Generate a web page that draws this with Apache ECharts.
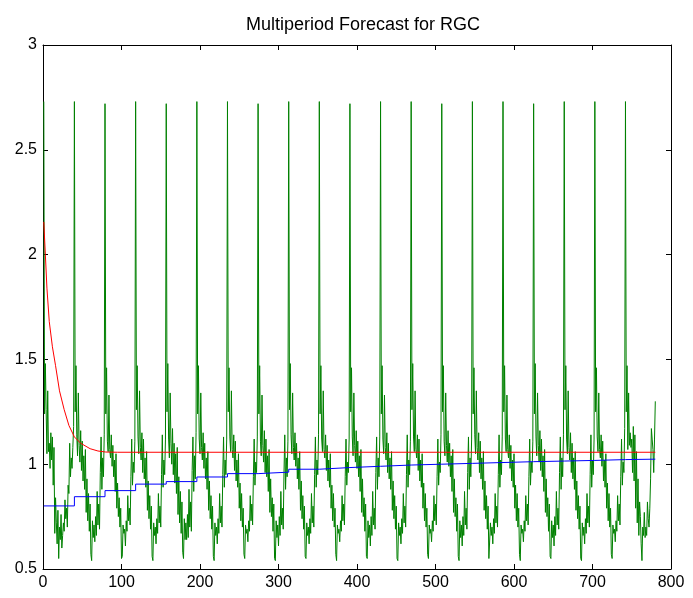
<!DOCTYPE html>
<html>
<head>
<meta charset="utf-8">
<script src="https://cdn.jsdelivr.net/npm/echarts@6/dist/echarts.min.js"></script>
<style>
html,body{margin:0;padding:0;background:#fff;}
#chart{width:693px;height:598px;}
</style>
</head>
<body>
<div id="chart"></div>
<script>
// ---- data ----
var titleText = 'Multiperiod Forecast for RGC';
var xTicks = [0, 100, 200, 300, 400, 500, 600, 700, 800];
var yTicks = [0.5, 1, 1.5, 2, 2.5, 3];
var cycleLength = 39; // points per cycle in the green series

// green series: one row per 39-point cycle (x = 1..780)
var greenCycles = [
 [2.73,1.24,1.48,1.26,1.05,1.35,1.06,1.10,0.98,1.15,1.02,1.13,0.90,1.08,0.67,0.84,0.72,0.62,0.78,0.55,0.70,0.64,0.76,0.60,0.66,0.72,0.68,0.83,0.74,0.79,0.70,0.90,0.86,1.10,0.94,1.03,0.98,1.08,1.18],
 [2.73,1.25,1.47,1.14,1.04,1.34,1.09,1.01,1.16,0.97,1.11,0.92,1.04,0.88,1.07,0.77,0.93,0.73,0.86,0.68,0.81,0.57,0.54,0.73,0.65,0.71,0.63,0.75,0.66,0.87,0.71,0.81,0.69,0.96,1.13,0.88,1.03,0.94,1.14],
 [2.72,1.24,1.46,1.11,1.06,1.33,1.07,1.03,1.14,0.99,1.09,0.94,1.02,0.87,1.05,0.79,0.91,0.75,0.84,0.70,0.79,0.55,0.56,0.71,0.67,0.69,0.61,0.73,0.68,0.85,0.73,0.79,0.71,0.94,1.12,0.90,1.01,0.96,1.11],
 [2.73,1.26,1.47,1.13,1.05,1.35,1.08,1.02,1.15,0.96,1.12,0.93,1.03,0.89,1.06,0.78,0.92,0.74,0.85,0.69,0.80,0.56,0.54,0.72,0.66,0.70,0.62,0.74,0.67,0.86,0.72,0.80,0.70,0.95,1.14,0.89,1.02,0.95,1.12],
 [2.72,1.25,1.48,1.12,1.03,1.34,1.10,1.00,1.17,0.95,1.10,0.91,1.05,0.86,1.08,0.76,0.94,0.72,0.87,0.67,0.82,0.58,0.55,0.74,0.64,0.72,0.64,0.76,0.65,0.88,0.70,0.82,0.68,0.97,1.13,0.87,1.04,0.93,1.15],
 [2.73,1.24,1.47,1.12,1.05,1.34,1.08,1.02,1.15,0.98,1.10,0.93,1.03,0.88,1.06,0.78,0.92,0.74,0.85,0.69,0.80,0.56,0.54,0.72,0.66,0.70,0.62,0.74,0.67,0.86,0.72,0.80,0.70,0.95,1.13,0.89,1.02,0.95,1.12],
 [2.73,1.25,1.46,1.13,1.06,1.35,1.07,1.03,1.14,0.97,1.11,0.92,1.02,0.89,1.05,0.79,0.91,0.73,0.86,0.70,0.79,0.57,0.55,0.71,0.67,0.69,0.63,0.73,0.68,0.85,0.73,0.81,0.71,0.94,1.12,0.90,1.01,0.96,1.13],
 [2.72,1.24,1.47,1.11,1.04,1.33,1.09,1.01,1.16,0.96,1.12,0.94,1.04,0.87,1.07,0.77,0.93,0.75,0.84,0.68,0.81,0.55,0.54,0.73,0.65,0.71,0.61,0.75,0.66,0.87,0.71,0.79,0.69,0.96,1.14,0.88,1.03,0.94,1.11],
 [2.73,1.26,1.48,1.14,1.05,1.34,1.08,1.02,1.15,0.99,1.10,0.93,1.03,0.88,1.06,0.78,0.92,0.74,0.85,0.69,0.80,0.56,0.55,0.72,0.66,0.70,0.62,0.74,0.67,0.86,0.72,0.80,0.70,0.95,1.13,0.89,1.02,0.95,1.14],
 [2.73,1.24,1.47,1.12,1.06,1.35,1.07,1.03,1.14,0.97,1.09,0.92,1.02,0.89,1.05,0.79,0.90,0.73,0.86,0.70,0.79,0.57,0.54,0.71,0.67,0.69,0.63,0.73,0.68,0.85,0.73,0.81,0.71,0.94,1.12,0.90,1.01,0.96,1.12],
 [2.72,1.25,1.46,1.13,1.04,1.34,1.09,1.01,1.16,0.98,1.11,0.94,1.04,0.87,1.07,0.77,0.93,0.75,0.84,0.68,0.81,0.56,0.55,0.73,0.65,0.71,0.61,0.75,0.66,0.87,0.71,0.79,0.69,0.96,1.13,0.88,1.03,0.94,1.13],
 [2.73,1.24,1.47,1.12,1.05,1.33,1.08,1.02,1.15,0.96,1.10,0.93,1.03,0.88,1.06,0.78,0.92,0.74,0.85,0.69,0.80,0.55,0.54,0.72,0.66,0.70,0.62,0.74,0.67,0.86,0.72,0.80,0.70,0.95,1.14,0.89,1.02,0.95,1.11],
 [2.73,1.26,1.48,1.13,1.06,1.35,1.07,1.03,1.14,0.97,1.12,0.92,1.02,0.89,1.05,0.79,0.91,0.73,0.86,0.70,0.79,0.57,0.55,0.71,0.67,0.69,0.63,0.73,0.68,0.85,0.73,0.81,0.71,0.94,1.12,0.90,1.01,0.96,1.14],
 [2.72,1.25,1.47,1.11,1.04,1.34,1.09,1.01,1.16,0.99,1.10,0.94,1.04,0.87,1.07,0.77,0.93,0.75,0.84,0.68,0.81,0.56,0.54,0.73,0.65,0.71,0.61,0.75,0.66,0.87,0.71,0.79,0.69,0.96,1.13,0.88,1.03,0.94,1.12],
 [2.73,1.24,1.46,1.14,1.05,1.35,1.08,1.02,1.15,0.96,1.11,0.93,1.03,0.88,1.06,0.78,0.92,0.74,0.85,0.69,0.80,0.55,0.55,0.72,0.66,0.70,0.62,0.74,0.67,0.86,0.72,0.80,0.70,0.95,1.14,0.89,1.02,0.95,1.13],
 [2.73,1.25,1.47,1.12,1.06,1.33,1.07,1.03,1.14,0.98,1.09,0.92,1.02,0.89,1.05,0.79,0.90,0.73,0.86,0.70,0.79,0.57,0.54,0.71,0.67,0.69,0.63,0.73,0.68,0.85,0.73,0.81,0.71,0.94,1.12,0.90,1.01,0.96,1.11],
 [2.72,1.24,1.48,1.13,1.04,1.34,1.09,1.01,1.16,0.97,1.12,0.94,1.04,0.87,1.07,0.77,0.93,0.75,0.84,0.68,0.81,0.56,0.55,0.73,0.65,0.71,0.61,0.75,0.66,0.87,0.71,0.79,0.69,0.96,1.13,0.88,1.03,0.94,1.14],
 [2.73,1.26,1.47,1.12,1.05,1.35,1.08,1.02,1.15,0.96,1.10,0.93,1.03,0.88,1.06,0.78,0.92,0.74,0.85,0.69,0.80,0.55,0.54,0.72,0.66,0.70,0.62,0.74,0.67,0.86,0.72,0.80,0.70,0.95,1.14,0.89,1.02,0.95,1.12],
 [2.73,1.25,1.46,1.13,1.06,1.34,1.07,1.03,1.14,0.99,1.11,0.92,1.02,0.89,1.05,0.79,0.91,0.73,0.86,0.70,0.79,0.57,0.55,0.71,0.67,0.69,0.63,0.73,0.68,0.85,0.73,0.81,0.71,0.94,1.12,0.90,1.01,0.96,1.17],
 [2.73,1.25,1.47,1.07,1.34,1.09,1.15,1.08,1.12,0.96,1.18,0.92,1.14,0.79,1.06,0.72,0.93,0.66,0.82,0.75,0.62,0.54,0.70,0.66,0.77,0.65,0.70,0.66,0.82,0.74,0.70,0.79,0.93,1.17,1.12,1.07,0.96,1.12,1.30]
];

// red series: decaying forecast, [x, value] points
var redX = [1, 3, 5, 8, 12, 16, 21, 27, 33, 40, 48, 60, 70, 80, 95, 780];
var redY = [2.156, 2.00, 1.84, 1.68, 1.56, 1.47, 1.35, 1.26, 1.185, 1.13, 1.10, 1.074, 1.063, 1.058, 1.057, 1.057];

// blue series: one level per 39-point cycle (step function)
var blueLevels = [0.801, 0.845, 0.874, 0.905, 0.917, 0.939, 0.955, 0.962, 0.976, 0.984,
                  0.990, 0.996, 1.000, 1.004, 1.008, 1.012, 1.015, 1.018, 1.022, 1.024];

// ---- build series data ----
var greenData = [];
greenCycles.forEach(function (row, r) {
  row.forEach(function (v, i) { greenData.push([r * cycleLength + i + 1, v]); });
});
var redData = redX.map(function (x, i) { return [x, redY[i]]; });
var blueData = blueLevels.map(function (v, k) { return [k * cycleLength + 1, v]; });
blueData.push([greenData.length, blueLevels[blueLevels.length - 1]]);

var FONT = "'Liberation Sans', Arial, sans-serif";
var axisCommon = {
  axisLine: { show: true, onZero: false, lineStyle: { color: '#000', width: 1 } },
  axisTick: { show: true, inside: true, length: 5, lineStyle: { color: '#000', width: 1 } },
  splitLine: { show: false }
};
function xAx(pos, showLabel) {
  return Object.assign({
    type: 'value', position: pos, min: xTicks[0], max: xTicks[xTicks.length - 1],
    interval: xTicks[1] - xTicks[0],
    axisLabel: { show: showLabel, color: '#000', fontSize: 16, fontFamily: FONT, margin: 6 }
  }, axisCommon);
}
function yAx(pos, showLabel) {
  return Object.assign({
    type: 'value', position: pos, min: yTicks[0], max: yTicks[yTicks.length - 1],
    interval: yTicks[1] - yTicks[0],
    axisLabel: { show: showLabel, color: '#000', fontSize: 16, fontFamily: FONT, margin: 6 }
  }, axisCommon);
}

var chart = echarts.init(document.getElementById('chart'), null, { renderer: 'canvas' });
chart.setOption({
  animation: false,
  backgroundColor: '#fff',
  title: {
    text: titleText, left: 358, top: 11, textAlign: 'center',
    textStyle: { color: '#000', fontSize: 18, fontWeight: 'normal', fontFamily: FONT }
  },
  grid: { left: 43, right: 22, top: 45, bottom: 29, containLabel: false },
  xAxis: [xAx('bottom', true), xAx('top', false)],
  yAxis: [yAx('left', true), yAx('right', false)],
  series: [
    { type: 'line', name: 'green', data: greenData, showSymbol: false, symbol: 'none',
      lineStyle: { color: '#008000', width: 1 }, z: 2 },
    { type: 'line', name: 'blue', data: blueData, step: 'end', showSymbol: false, symbol: 'none',
      lineStyle: { color: '#0000ff', width: 1 }, z: 3 },
    { type: 'line', name: 'red', data: redData, showSymbol: false, symbol: 'none',
      lineStyle: { color: '#ff0000', width: 1 }, z: 4 }
  ]
});
</script>
</body>
</html>
